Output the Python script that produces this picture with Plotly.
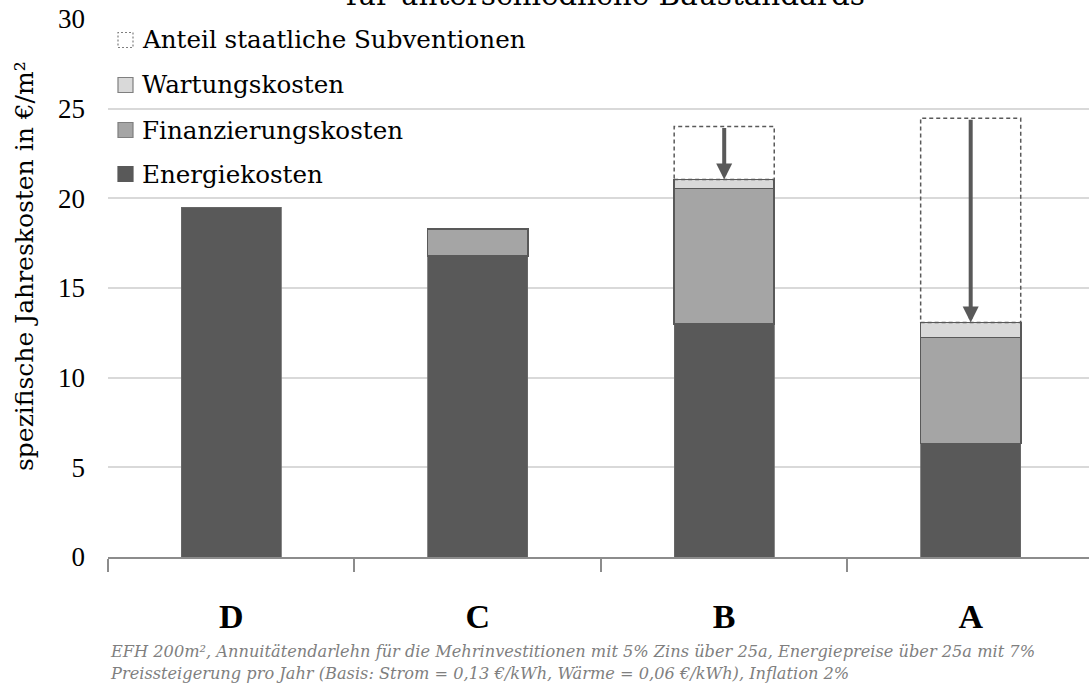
import plotly.graph_objects as go

# Baustandards (categories) and cost components in €/m² per year
standards = ["D", "C", "B", "A"]
energiekosten = [19.5, 16.77, 13.0, 6.34]
finanzierungskosten = [None, 1.52, 7.55, 5.89]
wartungskosten = [None, None, 0.5, 0.84]
subventionen = [None, None, 2.95, 11.4]

y_ticks = [0, 5, 10, 15, 20, 25, 30]

legend_labels = ["Anteil staatliche Subventionen", "Wartungskosten",
                 "Finanzierungskosten", "Energiekosten"]

footnote_1 = ("EFH 200m², Annuitätendarlehn für die Mehrinvestitionen mit 5% Zins über 25a, "
              "Energiepreise über 25a mit 7%")
footnote_2 = ("Preissteigerung pro Jahr (Basis: Strom = 0,13 €/kWh, Wärme = 0,06 €/kWh), "
              "Inflation 2%")

W, H = 1089, 684
ML, MR, MT, MB = 108, 0, 19, 127
PW, PH = W - ML - MR, H - MT - MB

SERIF = "DejaVu Serif"
SERIF_N = "Liberation Serif"
C_ENERGIE = "#595959"
C_FINANZ = "#a5a5a5"
C_WARTUNG = "#d9d9d9"
C_EDGE = "#595959"
BAR_W = 0.406


def px_x(px):
    return (px - ML) / PW


def px_y(py):
    return (H - MB - py) / PH


fig = go.Figure()
fig.add_bar(x=standards, y=energiekosten, width=BAR_W, name="Energiekosten",
            marker=dict(color=C_ENERGIE, line=dict(color="#6a6a6a", width=0.8)))
fig.add_bar(x=standards, y=finanzierungskosten, width=BAR_W, name="Finanzierungskosten",
            marker=dict(color=C_FINANZ, line=dict(color=C_EDGE, width=1.6)))
fig.add_bar(x=standards, y=wartungskosten, width=BAR_W, name="Wartungskosten",
            marker=dict(color=C_WARTUNG, line=dict(color=C_EDGE, width=1.6)))

# dashed boxes for the subsidy share on top of each stack, with arrows down
for i, s in enumerate(subventionen):
    if s is None:
        continue
    base = sum(v for v in (energiekosten[i], finanzierungskosten[i], wartungskosten[i]) if v)
    fig.add_shape(type="rect", xref="x", yref="y",
                  x0=i - BAR_W / 2, x1=i + BAR_W / 2, y0=base, y1=base + s,
                  line=dict(color=C_EDGE, width=1.5, dash="4px,3px"), layer="above")
    fig.add_annotation(x=i, y=base, ax=i, ay=base + s, xref="x", yref="y",
                       axref="x", ayref="y", text="", showarrow=True,
                       arrowhead=2, arrowsize=0.8, arrowwidth=4,
                       arrowcolor=C_EDGE, standoff=0)

# legend drawn by hand (top to bottom)
leg_rows = [40, 85, 130, 174]
leg_fill = ["rgba(0,0,0,0)", C_WARTUNG, C_FINANZ, C_ENERGIE]
leg_line = ["#7f7f7f", "#7f7f7f", "#7f7f7f", C_ENERGIE]
leg_dash = ["2px,2px", "solid", "solid", "solid"]
for label, cy, fc, lc, dsh in zip(legend_labels, leg_rows, leg_fill, leg_line, leg_dash):
    fig.add_shape(type="rect", xref="paper", yref="paper",
                  x0=px_x(118), x1=px_x(133), y0=px_y(cy + 7.5), y1=px_y(cy - 7.5),
                  fillcolor=fc, line=dict(color=lc, width=1.2, dash=dsh), layer="above")
    fig.add_annotation(x=px_x(140), y=px_y(cy), xref="paper", yref="paper",
                       text=label, showarrow=False, xanchor="left", yanchor="middle",
                       font=dict(family=SERIF, size=24.6, color="#000000"))

# title line (upper part runs off the top edge)
fig.add_annotation(x=px_x(605), y=px_y(14), xref="paper", yref="paper",
                   text="für unterschiedliche Baustandards", showarrow=False,
                   xanchor="center", yanchor="bottom",
                   font=dict(family=SERIF, size=29.5, color="#000000"))

# y axis title
fig.add_annotation(x=px_x(24), y=px_y(266), xref="paper", yref="paper",
                   text="spezifische Jahreskosten in €/m²", showarrow=False,
                   textangle=-90, xanchor="center", yanchor="middle",
                   font=dict(family=SERIF, size=25, color="#000000"))

# footnote
for txt, cy in ((footnote_1, 651), (footnote_2, 673)):
    fig.add_annotation(x=px_x(108), y=px_y(cy), xref="paper", yref="paper",
                       text=f"<i>{txt}</i>", showarrow=False,
                       xanchor="left", yanchor="middle",
                       font=dict(family=SERIF, size=16.2, color="#7f7f7f"))

fig.update_layout(
    width=W, height=H,
    margin=dict(l=ML, r=MR, t=MT, b=MB, autoexpand=False),
    paper_bgcolor="white", plot_bgcolor="white",
    barmode="stack", showlegend=False,
    font=dict(family=SERIF, color="#000000"),
)
fig.update_xaxes(
    type="category", range=[-0.5, 3.48],
    showgrid=False, showline=True, linecolor="#8c8c8c", linewidth=2,
    ticks="outside", tickson="boundaries", ticklen=13, tickwidth=2, tickcolor="#8c8c8c",
    tickfont=dict(family=SERIF_N, size=34, color="#000000"),
    ticklabelstandoff=28, ticktext=[f"<b>{s}</b>" for s in standards],
    tickvals=standards,
)
fig.update_yaxes(
    range=[0, 30], tickvals=y_ticks, showgrid=True, gridcolor="#d9d9d9", gridwidth=2,
    zeroline=False, showline=False, ticks="",
    tickfont=dict(family=SERIF_N, size=27, color="#000000"),
    ticklabelstandoff=22,
)

fig.write_html("out.html")
